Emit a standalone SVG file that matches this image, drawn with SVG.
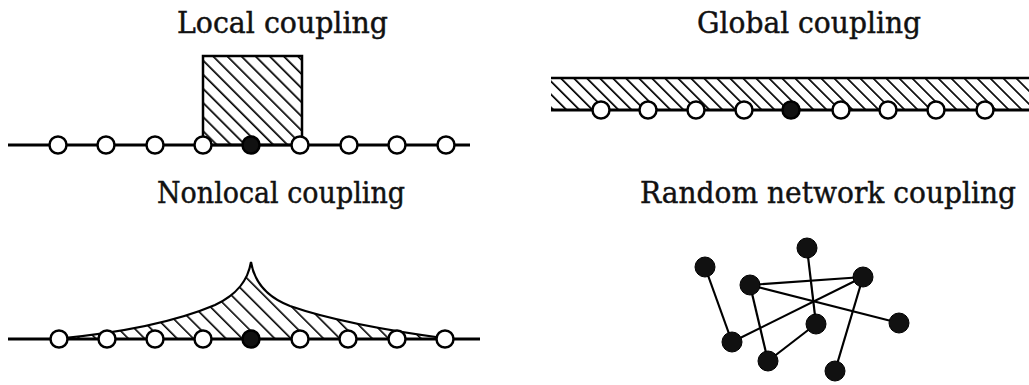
<svg xmlns="http://www.w3.org/2000/svg" width="1029" height="385" viewBox="0 0 1029 385">
<style>
.title{font-family:"DejaVu Serif","Liberation Serif",serif;font-size:29px;fill:#111;stroke:#111;stroke-width:0.45}
.chain{stroke:#000;stroke-width:3;fill:none}
.osc{fill:#fff;stroke:#000;stroke-width:2.5}
.osc-f{fill:#111;stroke:#000;stroke-width:2.5}
.edge{stroke:#000;stroke-width:2.2}
.net{fill:#111;stroke:#000;stroke-width:1}
.border{fill:none;stroke:#000;stroke-width:2.5}
</style>
<defs>
<pattern id="hatchL" width="10" height="10" patternUnits="userSpaceOnUse" patternTransform="rotate(-45)"><rect x="0" y="0" width="1.7" height="10" fill="#000"/></pattern>
<pattern id="hatchG" width="9.2" height="10" patternUnits="userSpaceOnUse" patternTransform="rotate(-45)"><rect x="0" y="0" width="1.7" height="10" fill="#000"/></pattern>
<pattern id="hatchN" width="11.5" height="10" patternUnits="userSpaceOnUse" patternTransform="rotate(-45)"><rect x="0" y="0" width="1.6" height="10" fill="#000"/></pattern>
</defs>

<!-- Local coupling -->
<g id="local">
<text class="title" x="177" y="33" textLength="211" lengthAdjust="spacingAndGlyphs">Local coupling</text>
<rect x="203" y="56" width="99" height="89" fill="url(#hatchL)"/>
<rect class="border" x="203" y="56" width="99" height="89"/>
<line class="chain" x1="8" y1="145" x2="470" y2="145"/>
<circle class="osc" cx="58" cy="145" r="8.5"/>
<circle class="osc" cx="106" cy="145" r="8.5"/>
<circle class="osc" cx="155" cy="145" r="8.5"/>
<circle class="osc" cx="203" cy="145" r="8.5"/>
<circle class="osc-f" cx="251" cy="145" r="8.5"/>
<circle class="osc" cx="300" cy="145" r="8.5"/>
<circle class="osc" cx="349" cy="145" r="8.5"/>
<circle class="osc" cx="397" cy="145" r="8.5"/>
<circle class="osc" cx="446" cy="145" r="8.5"/>
</g>

<!-- Global coupling -->
<g id="global">
<text class="title" x="697" y="33" textLength="224" lengthAdjust="spacingAndGlyphs">Global coupling</text>
<rect x="551" y="78" width="478" height="32" fill="url(#hatchG)"/>
<line x1="551" y1="78" x2="1029" y2="78" stroke="#000" stroke-width="2.5"/>
<line class="chain" x1="551" y1="110" x2="1029" y2="110"/>
<circle class="osc" cx="601" cy="110" r="8.5"/>
<circle class="osc" cx="648" cy="110" r="8.5"/>
<circle class="osc" cx="696" cy="110" r="8.5"/>
<circle class="osc" cx="744" cy="110" r="8.5"/>
<circle class="osc-f" cx="791" cy="110" r="8.5"/>
<circle class="osc" cx="841" cy="110" r="8.5"/>
<circle class="osc" cx="888" cy="110" r="8.5"/>
<circle class="osc" cx="936" cy="110" r="8.5"/>
<circle class="osc" cx="985" cy="110" r="8.5"/>
</g>

<!-- Nonlocal coupling -->
<g id="nonlocal">
<text class="title" x="157" y="203" textLength="248" lengthAdjust="spacingAndGlyphs">Nonlocal coupling</text>
<path d="M55,339 C120,333 175,322 215,305 C238,294 248,280 251,262 C254,280 264,296 290,306 C330,320 390,331 450,339 Z" fill="url(#hatchN)"/>
<path d="M55,339 C120,333 175,322 215,305 C238,294 248,280 251,262 C254,280 264,296 290,306 C330,320 390,331 450,339" fill="none" stroke="#000" stroke-width="2.2"/>
<line class="chain" x1="8" y1="339" x2="480" y2="339"/>
<circle class="osc" cx="59" cy="339" r="8.5"/>
<circle class="osc" cx="107" cy="339" r="8.5"/>
<circle class="osc" cx="155" cy="339" r="8.5"/>
<circle class="osc" cx="203" cy="339" r="8.5"/>
<circle class="osc-f" cx="251" cy="339" r="8.5"/>
<circle class="osc" cx="300" cy="339" r="8.5"/>
<circle class="osc" cx="348" cy="339" r="8.5"/>
<circle class="osc" cx="397" cy="339" r="8.5"/>
<circle class="osc" cx="445" cy="339" r="8.5"/>
</g>

<!-- Random network coupling -->
<g id="random-title">
<text class="title" x="640" y="203" textLength="376" lengthAdjust="spacingAndGlyphs">Random network coupling</text>
</g>
<g id="connectors">
<line class="edge" x1="705" y1="267" x2="732" y2="342"/>
<line class="edge" x1="750" y1="285" x2="863" y2="277"/>
<line class="edge" x1="750" y1="285" x2="899" y2="323"/>
<line class="edge" x1="732" y1="342" x2="863" y2="277"/>
<line class="edge" x1="750" y1="285" x2="768" y2="361"/>
<line class="edge" x1="807" y1="248" x2="816" y2="324"/>
<line class="edge" x1="816" y1="324" x2="768" y2="361"/>
<line class="edge" x1="863" y1="277" x2="835" y2="371"/>
</g>
<g id="nA"><circle class="net" cx="705" cy="267" r="10"/></g>
<g id="nB"><circle class="net" cx="807" cy="248" r="10"/></g>
<g id="nC"><circle class="net" cx="750" cy="285" r="10"/></g>
<g id="nD"><circle class="net" cx="863" cy="277" r="10"/></g>
<g id="nE"><circle class="net" cx="816" cy="324" r="10"/></g>
<g id="nF"><circle class="net" cx="899" cy="323" r="10"/></g>
<g id="nG"><circle class="net" cx="732" cy="342" r="10"/></g>
<g id="nH"><circle class="net" cx="768" cy="361" r="10"/></g>
<g id="nI"><circle class="net" cx="835" cy="371" r="10"/></g>
</svg>
